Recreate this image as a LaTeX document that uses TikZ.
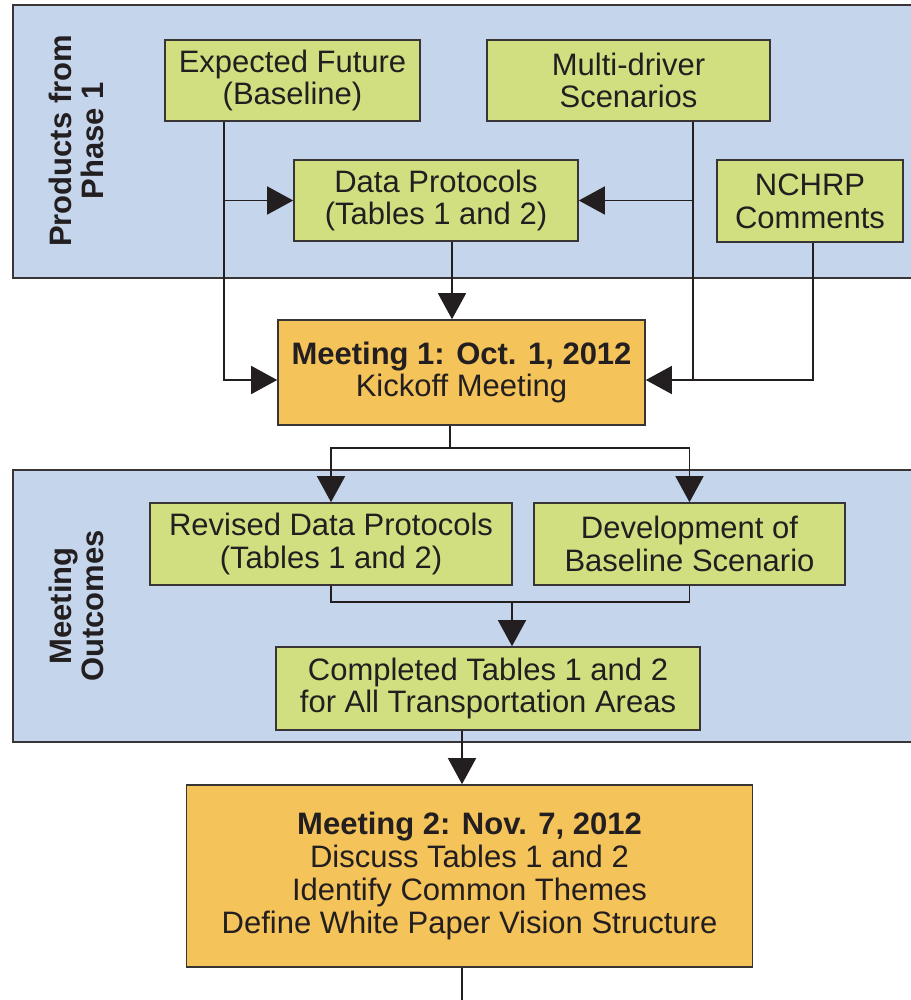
\documentclass[tikz,border=0pt]{standalone}
\usepackage{fontspec}
\setmainfont{Liberation Sans}
\usepackage{tikz}
\usetikzlibrary{arrows.meta}

\definecolor{panelblue}{RGB}{197,214,236}
\definecolor{prodgreen}{RGB}{210,223,128}
\definecolor{meetorange}{RGB}{244,195,90}
\definecolor{inkgray}{RGB}{35,31,32}

\begin{document}
\begin{tikzpicture}[x=0.5pt, y=-0.5pt,
        panel/.style = {draw=inkgray!90, fill=panelblue, line width=1pt, inner sep=0pt},
        prod/.style = {draw=inkgray!90, fill=prodgreen, line width=0.8pt, inner sep=0pt, align=center, text=inkgray, font=\fontsize{15.5}{16.4}\selectfont},
        meet/.style = {prod, fill=meetorange},
        side/.style = {rotate=90, align=center, text=inkgray, font=\bfseries\fontsize{15.5}{16}\selectfont},
        flow/.style = {-{Triangle[length=13pt, width=14pt]}, line width=0.75pt, draw=inkgray},
        wire/.style = {line width=0.75pt, draw=inkgray}]
        \useasboundingbox (0,0) rectangle (910,1000);
        \node[panel, minimum width=449.5pt, minimum height=136.5pt] (phaseA) at (462.5,141.5) {};
        \node[panel, minimum width=449.5pt, minimum height=136pt] (phaseB) at (462.5,606) {};
        \node[side] (phaseAlbl) at (76,141) {Products from\\Phase 1};
        \node[side] (phaseBlbl) at (76,606) {Meeting\\Outcomes};
        \node[prod, minimum width=127.5pt, minimum height=40.5pt] (expected) at (292.5,80.5) {Expected Future\\(Baseline)};
        \node[prod, minimum width=141.5pt, minimum height=40.5pt] (multi) at (628.5,80.5) {Multi-driver\\Scenarios};
        \node[prod, minimum width=142pt, minimum height=40.5pt] (protocols) at (436,200.5) {Data Protocols\\(Tables 1 and 2)};
        \node[prod, minimum width=93pt, minimum height=41pt] (nchrp) at (810,201) {NCHRP\\Comments};
        \node[meet, minimum width=183.5pt, minimum height=52.5pt] (meetA) at (461.5,372.5) {\textbf{Meeting 1: Oct. 1, 2012}\\Kickoff Meeting};
        \node[prod, minimum width=181pt, minimum height=41pt] (revised) at (331,544) {Revised Data Protocols\\(Tables 1 and 2)};
        \node[prod, minimum width=155.5pt, minimum height=41pt] (baseline) at (689.5,544) {Development of\\Baseline Scenario};
        \node[prod, minimum width=212pt, minimum height=41.5pt] (completed) at (488,688.5) {Completed Tables 1 and 2\\for All Transportation Areas};
        \node[meet, minimum width=283pt, minimum height=91pt] (meetB) at (469.5,876) {\textbf{Meeting 2: Nov. 7, 2012}\\Discuss Tables 1 and 2\\Identify Common Themes\\Define White Paper Vision Structure};
        \coordinate (xE) at (224,0);
        \coordinate (xM) at (693,0);
        \coordinate (xN) at (813,0);
        \coordinate (xP) at (452,0);
        \coordinate (xQ) at (450,0);
        \coordinate (xR) at (512,0);
        \coordinate (xS) at (462,0);
        \coordinate (yIn) at (0,380);
        \coordinate (ySplit) at (0,448);
        \coordinate (yJoin) at (0,602);
        \coordinate (tail) at (462,1000);
        \draw[flow] (expected.south -| xE) |- (meetA.west |- yIn);
        \draw[flow] (xE |- protocols.west) -- (protocols.west);
        \draw[flow] (multi.south -| xM) |- (meetA.east |- yIn);
        \draw[flow] (xM |- protocols.east) -- (protocols.east);
        \draw[wire] (nchrp.south -| xN) |- (xM |- yIn);
        \draw[flow] (protocols.south -| xP) -- (meetA.north -| xP);
        \draw[wire] (meetA.south -| xQ) -- (xQ |- ySplit);
        \draw[flow] (xQ |- ySplit) -| (revised.north);
        \draw[flow] (xQ |- ySplit) -| (baseline.north);
        \draw[wire] (revised.south) |- (xR |- yJoin);
        \draw[wire] (baseline.south) |- (xR |- yJoin);
        \draw[flow] (xR |- yJoin) -- (completed.north -| xR);
        \draw[flow] (completed.south -| xS) -- (meetB.north -| xS);
        \draw[wire] (meetB.south -| xS) -- (tail);
\end{tikzpicture}
\end{document}
